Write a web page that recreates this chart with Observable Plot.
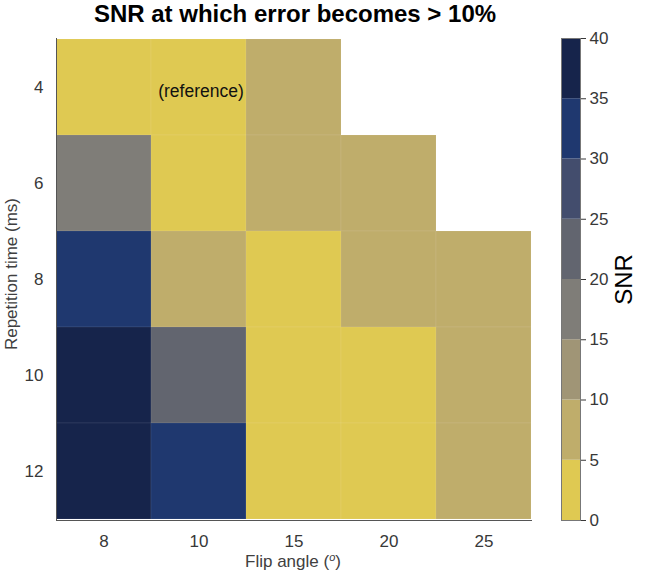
<!DOCTYPE html>
<html>
<head>
<meta charset="utf-8">
<script src="https://cdn.jsdelivr.net/npm/d3@7"></script>
<script src="https://cdn.jsdelivr.net/npm/@observablehq/plot@0.6"></script>
<style>
  html, body { margin: 0; padding: 0; background: #fff; }
  #wrap { position: relative; width: 655px; height: 574px; font-family: "Liberation Sans", Arial, Helvetica, sans-serif; }
  #wrap svg { position: absolute; top: 0; }
  .title { position: absolute; left: 0; width: 590px; top: 0px; text-align: center; font-weight: bold; font-size: 24px; line-height: 28px; color: #000; white-space: nowrap; }
  .xlab { position: absolute; left: 143px; width: 300px; top: 552px; text-align: center; font-size: 17px; line-height: 20px; color: #404040; white-space: nowrap; }
  .xlab sup { font-size: 11px; font-style: italic; vertical-align: 6px; line-height: 0; }
  .ylab { position: absolute; left: -138px; width: 300px; top: 264px; height: 20px; text-align: center; font-size: 17px; line-height: 20px; color: #404040; transform: rotate(-90deg); transform-origin: 150px 10px; white-space: nowrap; }
</style>
</head>
<body>
<div id="wrap">
  <div class="title">SNR at which error becomes &gt; 10%</div>
  <div class="xlab">Flip angle (<sup>o</sup>)</div>
  <div class="ylab">Repetition time (ms)</div>
</div>
<script>
// Categories
const flipAngles = ["8", "10", "15", "20", "25"];
const repTimes = ["4", "6", "8", "10", "12"];
// SNR values, one array per repetition time (null = not computed)
const snrTR4  = [3, 3, 8, null, null];
const snrTR6  = [18, 3, 8, 8, null];
const snrTR8  = [32, 8, 3, 8, 8];
const snrTR10 = [38, 22, 3, 3, 8];
const snrTR12 = [38, 32, 3, 3, 8];
// Colour bins
const snrThresholds = [5, 10, 15, 20, 25, 30, 35];
const binColors = ["#dfc952", "#bfad6b", "#a09576", "#7f7d78", "#62656f", "#434d6d", "#1f386f", "#16244b"];
const colorbarEdges = [0, 5, 10, 15, 20, 25, 30, 35, 40];
const colorbarTicks = [0, 5, 10, 15, 20, 25, 30, 35, 40];
// Annotation
const annotations = [{fa: "10", tr: "4", label: "(reference)"}];

const rows = [snrTR4, snrTR6, snrTR8, snrTR10, snrTR12];
const cells = [];
rows.forEach((row, i) => row.forEach((v, j) => {
  if (v != null) cells.push({tr: repTimes[i], fa: flipAngles[j], snr: v});
}));
const bins = colorbarEdges.slice(0, -1).map((lo, i) => ({lo, hi: colorbarEdges[i + 1], mid: (lo + colorbarEdges[i + 1]) / 2}));

const colorScale = {type: "threshold", domain: snrThresholds, range: binColors};
const font = "'Liberation Sans', Arial, Helvetica, sans-serif";

const main = Plot.plot({
  width: 655, height: 574,
  marginLeft: 56, marginRight: 124, marginTop: 38, marginBottom: 54,
  x: {type: "band", domain: flipAngles, padding: 0, label: null},
  y: {type: "band", domain: repTimes, padding: 0, label: null},
  color: colorScale,
  style: {fontFamily: font, fontSize: "17px", color: "#383838", background: "transparent"},
  marks: [
    Plot.cell(cells, {x: "fa", y: "tr", fill: "snr", inset: 0, stroke: "#fff", strokeOpacity: 0.12, strokeWidth: 0.6}),
    Plot.text(annotations, {x: "fa", y: "tr", text: "label", fontSize: 17.5, fill: "#111", dx: 2, dy: 4}),
    Plot.axisX({tickSize: 0, tickPadding: 14, label: null, fontSize: 17}),
    Plot.axisY({tickSize: 0, tickPadding: 13, label: null, fontSize: 17}),
    Plot.frame({anchor: "left", stroke: "#555"}),
    Plot.frame({anchor: "bottom", stroke: "#555"})
  ]
});
main.style.left = "0px";

const bar = Plot.plot({
  width: 94, height: 574,
  marginLeft: 0, marginRight: 75, marginTop: 38, marginBottom: 54,
  y: {domain: [0, 40], label: null},
  color: colorScale,
  style: {fontFamily: font, fontSize: "17px", color: "#383838", background: "transparent", overflow: "visible"},
  marks: [
    Plot.rect(bins, {y1: "lo", y2: "hi", fill: "mid"}),
    Plot.frame({stroke: "#777"}),
    Plot.axisY({anchor: "right", ticks: colorbarTicks, tickSize: 5, tickPadding: 4, label: null, fontSize: 17, tickFormat: d => String(d)}),
    Plot.text(["SNR"], {text: d => d, frameAnchor: "middle", dx: 53, rotate: -90, fontSize: 24, fill: "#000"})
  ]
});
bar.style.left = "561px";

const wrap = document.getElementById("wrap");
wrap.appendChild(main);
wrap.appendChild(bar);
</script>
</body>
</html>
